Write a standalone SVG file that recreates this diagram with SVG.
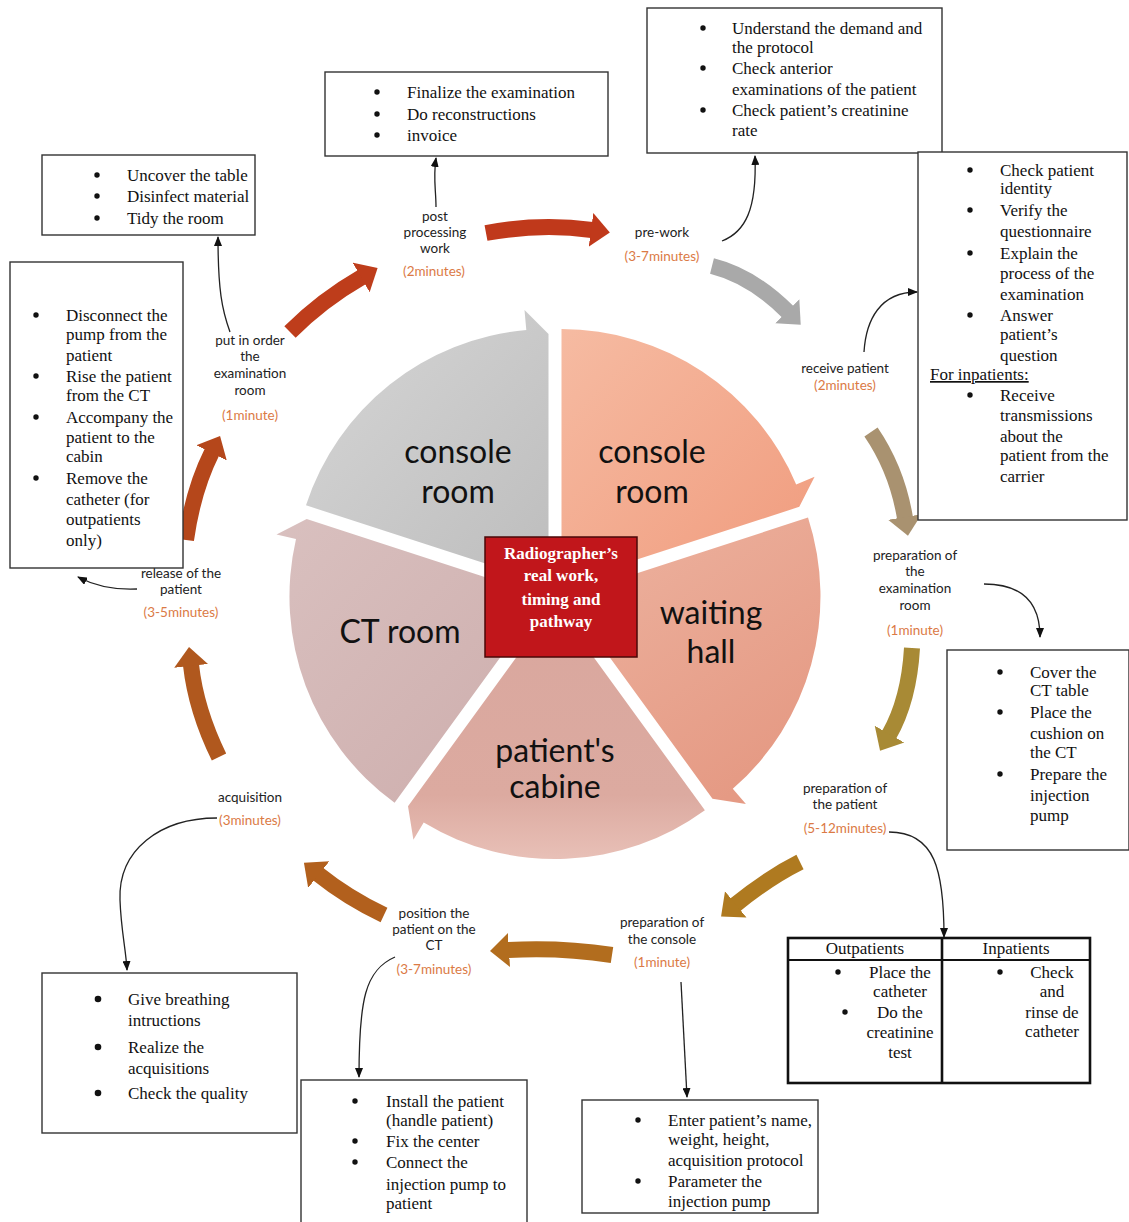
<svg xmlns="http://www.w3.org/2000/svg" width="1129" height="1222" viewBox="0 0 1129 1222">
  <style>
    .lbl { font-family: Lato, "Liberation Sans", sans-serif; font-size: 13.5px; fill: #222; text-anchor: middle; }
    .time { fill: #DB7A45; }
    .seg { font-family: Lato, "Liberation Sans", sans-serif; font-size: 32px; fill: #111; text-anchor: middle; }
    .box { fill: #fff; stroke: #333; stroke-width: 1.4; }
    .bt { font-family: "Liberation Serif", "Times New Roman", serif; font-size: 17px; fill: #111; }
    .btc { font-family: "Liberation Serif", "Times New Roman", serif; font-size: 17px; fill: #111; text-anchor: middle; }
    .dot { fill: #111; }
    .conn { fill: none; stroke: #222; stroke-width: 1.3; }
    .shaft { fill: none; stroke-width: 16; stroke-linecap: butt; }
  </style>
  <defs>
    <linearGradient id="gGray" x1="0" y1="0" x2="1" y2="1">
      <stop offset="0" stop-color="#D6D6D6"/><stop offset="1" stop-color="#BDBDBD"/>
    </linearGradient>
    <linearGradient id="gOrange" x1="0" y1="0" x2="1" y2="1">
      <stop offset="0" stop-color="#F6BBA2"/><stop offset="1" stop-color="#F09B7D"/>
    </linearGradient>
    <linearGradient id="gWait" x1="0" y1="0" x2="0.6" y2="1">
      <stop offset="0" stop-color="#EDB3A0"/><stop offset="1" stop-color="#E59A84"/>
    </linearGradient>
    <linearGradient id="gCab" x1="0" y1="0" x2="0" y2="1">
      <stop offset="0" stop-color="#D9A79E"/><stop offset="0.75" stop-color="#DCAAA0"/><stop offset="1" stop-color="#E8C0B7"/>
    </linearGradient>
    <linearGradient id="gCT" x1="0" y1="0" x2="1" y2="1">
      <stop offset="0" stop-color="#D9C0BF"/><stop offset="1" stop-color="#CDADAC"/>
    </linearGradient>
    <marker id="ah" markerUnits="userSpaceOnUse" viewBox="0 0 10 8" refX="9" refY="4" markerWidth="10" markerHeight="8" orient="auto">
      <path d="M0,0 L10,4 L0,8 Z" fill="#111"/>
    </marker>
    <marker id="h1" markerUnits="userSpaceOnUse" viewBox="0 -18 20 36" refX="1" refY="0" markerWidth="20" markerHeight="36" orient="auto"><path d="M0,-17 L19,0 L0,17 Z" fill="#C0391B"/></marker>
    <marker id="h2" markerUnits="userSpaceOnUse" viewBox="0 -18 20 36" refX="1" refY="0" markerWidth="20" markerHeight="36" orient="auto"><path d="M0,-17 L19,0 L0,17 Z" fill="#A9A9A9"/></marker>
    <marker id="h3" markerUnits="userSpaceOnUse" viewBox="0 -18 20 36" refX="1" refY="0" markerWidth="20" markerHeight="36" orient="auto"><path d="M0,-17 L19,0 L0,17 Z" fill="#A99270"/></marker>
    <marker id="h4" markerUnits="userSpaceOnUse" viewBox="0 -18 20 36" refX="1" refY="0" markerWidth="20" markerHeight="36" orient="auto"><path d="M0,-17 L19,0 L0,17 Z" fill="#A88A35"/></marker>
    <marker id="h5" markerUnits="userSpaceOnUse" viewBox="0 -18 20 36" refX="1" refY="0" markerWidth="20" markerHeight="36" orient="auto"><path d="M0,-17 L19,0 L0,17 Z" fill="#AF7A20"/></marker>
    <marker id="h6" markerUnits="userSpaceOnUse" viewBox="0 -18 20 36" refX="1" refY="0" markerWidth="20" markerHeight="36" orient="auto"><path d="M0,-17 L19,0 L0,17 Z" fill="#B26D1E"/></marker>
    <marker id="h7" markerUnits="userSpaceOnUse" viewBox="0 -18 20 36" refX="1" refY="0" markerWidth="20" markerHeight="36" orient="auto"><path d="M0,-17 L19,0 L0,17 Z" fill="#B2601D"/></marker>
    <marker id="h8" markerUnits="userSpaceOnUse" viewBox="0 -18 20 36" refX="1" refY="0" markerWidth="20" markerHeight="36" orient="auto"><path d="M0,-17 L19,0 L0,17 Z" fill="#B0581E"/></marker>
    <marker id="h9" markerUnits="userSpaceOnUse" viewBox="0 -18 20 36" refX="1" refY="0" markerWidth="20" markerHeight="36" orient="auto"><path d="M0,-17 L19,0 L0,17 Z" fill="#B5471B"/></marker>
    <marker id="h10" markerUnits="userSpaceOnUse" viewBox="0 -18 20 36" refX="1" refY="0" markerWidth="20" markerHeight="36" orient="auto"><path d="M0,-17 L19,0 L0,17 Z" fill="#BE3D1B"/></marker>
  </defs>

  <rect width="1129" height="1222" fill="#fff"/>

  <!-- segmented cycle: five wedges, each with an arrow tip at its clockwise end -->
  <g id="wedges">
    <g id="seg-console-left">
      <path d="M548.5,584.1 L306.0,505.3 A255,255 0 0 1 526.3,330.1 L524.5,310.1 L548.5,334.1 Z" fill="url(#gGray)"/>
      <text class="seg" x="458" y="463">console</text>
      <text class="seg" x="458" y="503">room</text>
    </g>
    <g id="seg-console-right">
      <path d="M561.5,584.1 L561.5,329.1 A255,255 0 0 1 796.2,484.5 L814.6,476.7 L799.3,506.8 Z" fill="url(#gOrange)"/>
      <text class="seg" x="652" y="463">console</text>
      <text class="seg" x="652" y="503">room</text>
    </g>
    <g id="seg-waiting">
      <path d="M565.5,596.4 L808.0,517.6 A255,255 0 0 1 732.8,788.8 L745.9,803.9 L712.5,798.7 Z" fill="url(#gWait)"/>
      <text class="seg" x="711" y="624">waiting</text>
      <text class="seg" x="711" y="663">hall</text>
    </g>
    <g id="seg-cabine">
      <path d="M555,604 L704.9,810.3 A255,255 0 0 1 423.7,822.6 L413.4,839.7 L408.0,806.3 Z" fill="url(#gCab)"/>
      <text class="seg" x="555" y="762">patient's</text>
      <text class="seg" x="555" y="798">cabine</text>
    </g>
    <g id="seg-ct">
      <path d="M544.5,596.4 L394.6,802.7 A255,255 0 0 1 296.0,539.0 L276.5,534.5 L306.7,519.1 Z" fill="url(#gCT)"/>
      <text class="seg" x="400" y="643">CT room</text>
    </g>
  </g>

  <g id="center">
    <rect x="485" y="537" width="152" height="120" fill="#C1161B" stroke="#4a0808" stroke-width="1.5"/>
    <g font-family="'Liberation Serif', 'Times New Roman', serif" font-size="17" font-weight="bold" fill="#fff" text-anchor="middle">
      <text x="561" y="559">Radiographer’s</text>
      <text x="561" y="581">real work,</text>
      <text x="561" y="605">timing and</text>
      <text x="561" y="627">pathway</text>
    </g>
  </g>

  <!-- step-to-step flow arrows around the cycle -->
  <g id="flow">
    <path class="shaft" stroke="#C0391B" d="M486,233 Q540,223 592,230" marker-end="url(#h1)"/>
    <path class="shaft" stroke="#A9A9A9" d="M712,266 Q752,276 788,312" marker-end="url(#h2)"/>
    <path class="shaft" stroke="#A99270" d="M871,432 Q897,470 905,518" marker-end="url(#h3)"/>
    <path class="shaft" stroke="#A88A35" d="M912,648 Q909,700 889,735" marker-end="url(#h4)"/>
    <path class="shaft" stroke="#AF7A20" d="M800,862 Q768,878 735,905" marker-end="url(#h5)"/>
    <path class="shaft" stroke="#B26D1E" d="M612,955 Q560,947 508,950" marker-end="url(#h6)"/>
    <path class="shaft" stroke="#B2601D" d="M384,915 Q348,898 318,874" marker-end="url(#h7)"/>
    <path class="shaft" stroke="#B0581E" d="M219,757 Q196,710 191,665" marker-end="url(#h8)"/>
    <path class="shaft" stroke="#B5471B" d="M186,540 Q193,490 212,452" marker-end="url(#h9)"/>
    <path class="shaft" stroke="#BE3D1B" d="M290,332 Q322,300 362,277" marker-end="url(#h10)"/>
  </g>

  <!-- step labels -->
  <g id="steps">
    <g id="step-post">
      <text class="lbl" x="435" y="221">post</text>
      <text class="lbl" x="435" y="237">processing</text>
      <text class="lbl" x="435" y="253">work</text>
      <text class="lbl time" x="434" y="276">(2minutes)</text>
    </g>
    <g id="step-prework">
      <text class="lbl" x="662" y="237">pre-work</text>
      <text class="lbl time" x="662" y="261">(3-7minutes)</text>
    </g>
    <g id="step-receive">
      <text class="lbl" x="845" y="373">receive patient</text>
      <text class="lbl time" x="845" y="390">(2minutes)</text>
    </g>
    <g id="step-prep-room">
      <text class="lbl" x="915" y="560">preparation of</text>
      <text class="lbl" x="915" y="576">the</text>
      <text class="lbl" x="915" y="593">examination</text>
      <text class="lbl" x="915" y="610">room</text>
      <text class="lbl time" x="915" y="635">(1minute)</text>
    </g>
    <g id="step-prep-patient">
      <text class="lbl" x="845" y="793">preparation of</text>
      <text class="lbl" x="845" y="809">the patient</text>
      <text class="lbl time" x="845" y="833">(5-12minutes)</text>
    </g>
    <g id="step-prep-console">
      <text class="lbl" x="662" y="927">preparation of</text>
      <text class="lbl" x="662" y="944">the console</text>
      <text class="lbl time" x="662" y="967">(1minute)</text>
    </g>
    <g id="step-position">
      <text class="lbl" x="434" y="918">position the</text>
      <text class="lbl" x="434" y="934">patient on the</text>
      <text class="lbl" x="434" y="950">CT</text>
      <text class="lbl time" x="434" y="974">(3-7minutes)</text>
    </g>
    <g id="step-acquisition">
      <text class="lbl" x="250" y="802">acquisition</text>
      <text class="lbl time" x="250" y="825">(3minutes)</text>
    </g>
    <g id="step-release">
      <text class="lbl" x="181" y="578">release of the</text>
      <text class="lbl" x="181" y="594">patient</text>
      <text class="lbl time" x="181" y="617">(3-5minutes)</text>
    </g>
    <g id="step-tidy">
      <text class="lbl" x="250" y="345">put in order</text>
      <text class="lbl" x="250" y="361">the</text>
      <text class="lbl" x="250" y="378">examination</text>
      <text class="lbl" x="250" y="395">room</text>
      <text class="lbl time" x="250" y="420">(1minute)</text>
    </g>
  </g>

  <!-- task boxes -->
  <g id="box-post">
    <rect class="box" x="325" y="72" width="283" height="84"/>
    <circle class="dot" cx="377" cy="92" r="2.7"/><circle class="dot" cx="377" cy="114" r="2.7"/><circle class="dot" cx="377" cy="135" r="2.7"/>
    <text class="bt" x="407" y="98">Finalize the examination</text>
    <text class="bt" x="407" y="120">Do reconstructions</text>
    <text class="bt" x="407" y="141">invoice</text>
  </g>
  <g id="box-prework">
    <rect class="box" x="647" y="8" width="295" height="145"/>
    <circle class="dot" cx="703" cy="28" r="2.7"/><circle class="dot" cx="703" cy="68" r="2.7"/><circle class="dot" cx="703" cy="110" r="2.7"/>
    <text class="bt" x="732" y="34">Understand the demand and</text>
    <text class="bt" x="732" y="53">the protocol</text>
    <text class="bt" x="732" y="74">Check anterior</text>
    <text class="bt" x="732" y="95">examinations of the patient</text>
    <text class="bt" x="732" y="116">Check patient’s creatinine</text>
    <text class="bt" x="732" y="136">rate</text>
  </g>
  <g id="box-receive">
    <rect class="box" x="918" y="152" width="209" height="368"/>
    <circle class="dot" cx="970" cy="170" r="2.7"/><circle class="dot" cx="970" cy="210" r="2.7"/><circle class="dot" cx="970" cy="253" r="2.7"/><circle class="dot" cx="970" cy="315" r="2.7"/><circle class="dot" cx="970" cy="395" r="2.7"/>
    <text class="bt" x="1000" y="176">Check patient</text>
    <text class="bt" x="1000" y="194">identity</text>
    <text class="bt" x="1000" y="216">Verify the</text>
    <text class="bt" x="1000" y="237">questionnaire</text>
    <text class="bt" x="1000" y="259">Explain the</text>
    <text class="bt" x="1000" y="279">process of the</text>
    <text class="bt" x="1000" y="300">examination</text>
    <text class="bt" x="1000" y="321">Answer</text>
    <text class="bt" x="1000" y="340">patient’s</text>
    <text class="bt" x="1000" y="361">question</text>
    <text class="bt" x="930" y="380" text-decoration="underline">For inpatients:</text>
    <text class="bt" x="1000" y="401">Receive</text>
    <text class="bt" x="1000" y="421">transmissions</text>
    <text class="bt" x="1000" y="442">about the</text>
    <text class="bt" x="1000" y="461">patient from the</text>
    <text class="bt" x="1000" y="482">carrier</text>
  </g>
  <g id="box-prep-room">
    <rect class="box" x="947" y="650" width="182" height="200"/>
    <circle class="dot" cx="1000" cy="672" r="2.7"/><circle class="dot" cx="1000" cy="712" r="2.7"/><circle class="dot" cx="1000" cy="774" r="2.7"/>
    <text class="bt" x="1030" y="678">Cover the</text>
    <text class="bt" x="1030" y="696">CT table</text>
    <text class="bt" x="1030" y="718">Place the</text>
    <text class="bt" x="1030" y="739">cushion on</text>
    <text class="bt" x="1030" y="758">the CT</text>
    <text class="bt" x="1030" y="780">Prepare the</text>
    <text class="bt" x="1030" y="801">injection</text>
    <text class="bt" x="1030" y="821">pump</text>
  </g>
  <g id="table-prep-patient">
    <rect x="788" y="938" width="302" height="145" fill="#fff" stroke="#111" stroke-width="2.6"/>
    <line x1="788" y1="960" x2="1090" y2="960" stroke="#111" stroke-width="2.2"/>
    <line x1="942" y1="938" x2="942" y2="1083" stroke="#111" stroke-width="2.6"/>
    <text class="btc" x="865" y="954">Outpatients</text>
    <text class="btc" x="1016" y="954">Inpatients</text>
    <circle class="dot" cx="838" cy="972" r="2.7"/><circle class="dot" cx="845" cy="1012" r="2.7"/>
    <text class="btc" x="900" y="978">Place the</text>
    <text class="btc" x="900" y="997">catheter</text>
    <text class="btc" x="900" y="1018">Do the</text>
    <text class="btc" x="900" y="1038">creatinine</text>
    <text class="btc" x="900" y="1058">test</text>
    <circle class="dot" cx="1000" cy="972" r="2.7"/>
    <text class="btc" x="1052" y="978">Check</text>
    <text class="btc" x="1052" y="997">and</text>
    <text class="btc" x="1052" y="1018">rinse de</text>
    <text class="btc" x="1052" y="1037">catheter</text>
  </g>
  <g id="box-prep-console">
    <rect class="box" x="582" y="1100" width="236" height="113"/>
    <circle class="dot" cx="638" cy="1120" r="2.7"/><circle class="dot" cx="638" cy="1181" r="2.7"/>
    <text class="bt" x="668" y="1126">Enter patient’s name,</text>
    <text class="bt" x="668" y="1145">weight, height,</text>
    <text class="bt" x="668" y="1166">acquisition protocol</text>
    <text class="bt" x="668" y="1187">Parameter the</text>
    <text class="bt" x="668" y="1207">injection pump</text>
  </g>
  <g id="box-position">
    <rect class="box" x="301" y="1080" width="226" height="150"/>
    <circle class="dot" cx="355" cy="1101" r="2.7"/><circle class="dot" cx="355" cy="1141" r="2.7"/><circle class="dot" cx="355" cy="1162" r="2.7"/>
    <text class="bt" x="386" y="1107">Install the patient</text>
    <text class="bt" x="386" y="1126">(handle patient)</text>
    <text class="bt" x="386" y="1147">Fix the center</text>
    <text class="bt" x="386" y="1168">Connect the</text>
    <text class="bt" x="386" y="1190">injection pump to</text>
    <text class="bt" x="386" y="1209">patient</text>
  </g>
  <g id="box-acquisition">
    <rect class="box" x="42" y="973" width="255" height="160"/>
    <circle class="dot" cx="98" cy="999" r="3.3"/><circle class="dot" cx="98" cy="1047" r="3.3"/><circle class="dot" cx="98" cy="1093" r="3.3"/>
    <text class="bt" x="128" y="1005">Give breathing</text>
    <text class="bt" x="128" y="1026">intructions</text>
    <text class="bt" x="128" y="1053">Realize the</text>
    <text class="bt" x="128" y="1074">acquisitions</text>
    <text class="bt" x="128" y="1099">Check the quality</text>
  </g>
  <g id="box-tidy">
    <rect class="box" x="42" y="155" width="213" height="80"/>
    <circle class="dot" cx="97" cy="175" r="2.7"/><circle class="dot" cx="97" cy="196" r="2.7"/><circle class="dot" cx="97" cy="218" r="2.7"/>
    <text class="bt" x="127" y="181">Uncover the table</text>
    <text class="bt" x="127" y="202">Disinfect material</text>
    <text class="bt" x="127" y="224">Tidy the room</text>
  </g>
  <g id="box-release">
    <rect class="box" x="10" y="262" width="173" height="306"/>
    <circle class="dot" cx="36" cy="315" r="2.7"/><circle class="dot" cx="36" cy="376" r="2.7"/><circle class="dot" cx="36" cy="417" r="2.7"/><circle class="dot" cx="36" cy="478" r="2.7"/>
    <text class="bt" x="66" y="321">Disconnect the</text>
    <text class="bt" x="66" y="340">pump from the</text>
    <text class="bt" x="66" y="361">patient</text>
    <text class="bt" x="66" y="382">Rise the patient</text>
    <text class="bt" x="66" y="401">from the CT</text>
    <text class="bt" x="66" y="423">Accompany the</text>
    <text class="bt" x="66" y="443">patient to the</text>
    <text class="bt" x="66" y="462">cabin</text>
    <text class="bt" x="66" y="484">Remove the</text>
    <text class="bt" x="66" y="505">catheter (for</text>
    <text class="bt" x="66" y="525">outpatients</text>
    <text class="bt" x="66" y="546">only)</text>
  </g>

  <!-- thin connectors from each step to its task box -->
  <g id="connectors">
    <path class="conn" d="M436,207 C436,190 433,178 436,158" marker-end="url(#ah)"/>
    <path class="conn" d="M722,241 C745,232 757,210 755,156" marker-end="url(#ah)"/>
    <path class="conn" d="M864,352 C866,320 880,292 917,292" marker-end="url(#ah)"/>
    <path class="conn" d="M984,584 C1020,584 1040,600 1040,637" marker-end="url(#ah)"/>
    <path class="conn" d="M889,832 C935,832 944,870 944,937" marker-end="url(#ah)"/>
    <path class="conn" d="M681,982 L687,1097" marker-end="url(#ah)"/>
    <path class="conn" d="M395,957 C365,970 359,1000 359,1077" marker-end="url(#ah)"/>
    <path class="conn" d="M217,818 C160,818 118,850 120,900 C121,930 126,950 127,970" marker-end="url(#ah)"/>
    <path class="conn" d="M137,589 C115,590 95,586 78,577" marker-end="url(#ah)"/>
    <path class="conn" d="M230,332 C222,310 218,290 218,237" marker-end="url(#ah)"/>
  </g>
</svg>
